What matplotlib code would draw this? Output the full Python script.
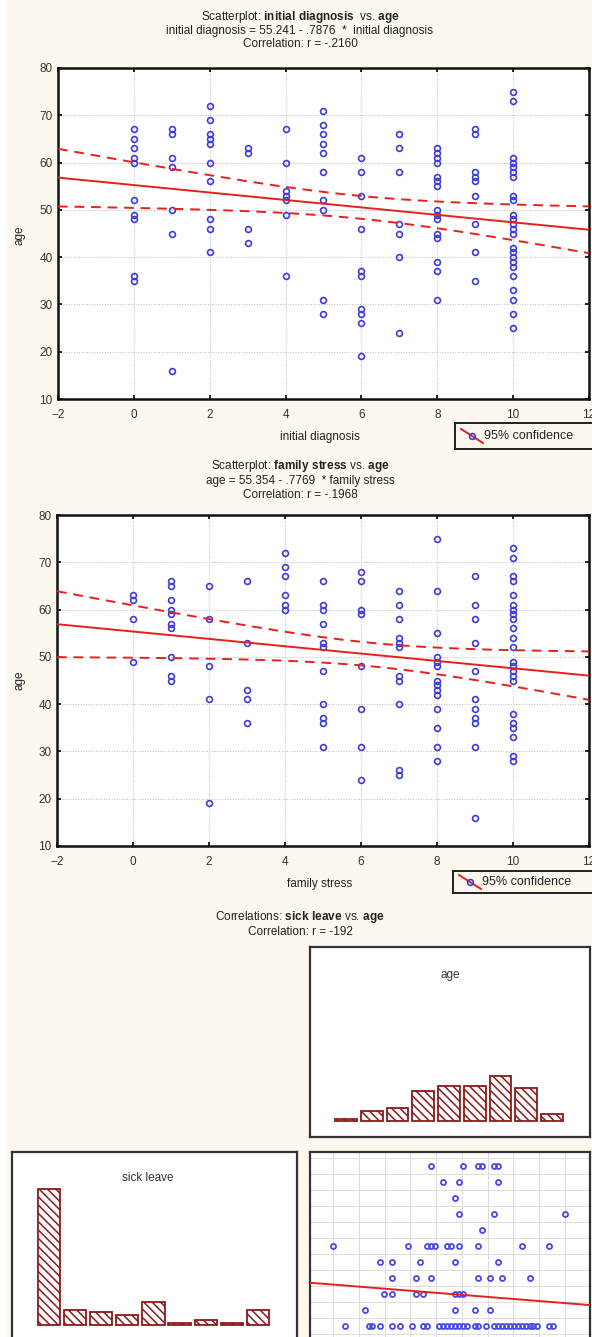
import numpy as np
import matplotlib
matplotlib.use("Agg")
import matplotlib.pyplot as plt
from matplotlib.patches import Rectangle

plt.rcParams['font.family'] = ['Liberation Sans', 'DejaVu Sans']
plt.rcParams['mathtext.fontset'] = 'custom'
plt.rcParams['mathtext.rm'] = 'Liberation Sans'
plt.rcParams['mathtext.bf'] = 'Liberation Sans:bold'
plt.rcParams['hatch.linewidth'] = 1.1

# ---- data ----
# panel 1: initial diagnosis (0..10) vs age
diag_levels = list(range(11))
diag_ages = [
    [67, 65, 63, 61, 60, 52, 49, 48, 36, 35],
    [67, 66, 61, 59, 50, 45, 16],
    [72, 69, 66, 65, 64, 60, 56, 48, 46, 41],
    [63, 62, 46, 43],
    [67, 60, 54, 53, 52, 49, 36],
    [71, 68, 66, 64, 62, 58, 52, 50, 31, 28],
    [61, 58, 53, 46, 37, 36, 29, 28, 26, 19],
    [66, 63, 58, 47, 45, 40, 24],
    [63, 62, 61, 60, 57, 56, 55, 50, 49, 48, 45, 44, 39, 37, 31],
    [67, 66, 58, 57, 56, 53, 47, 41, 35],
    [75, 73, 61, 60, 59, 58, 57, 53, 52, 49, 48, 47, 46, 45, 42, 41, 40, 39,
     38, 36, 33, 31, 28, 25],
]
diag_fit = (55.241, -0.7876)

# panel 2: family stress (0..10) vs age
stress_levels = list(range(11))
stress_ages = [
    [63, 62, 58, 49],
    [66, 65, 62, 60, 59, 57, 56, 50, 46, 45],
    [65, 58, 48, 41, 19],
    [66, 53, 43, 41, 36],
    [72, 69, 67, 63, 61, 60],
    [66, 61, 60, 57, 53, 52, 47, 40, 37, 36, 31],
    [68, 66, 60, 59, 48, 39, 31, 24],
    [64, 61, 58, 54, 53, 52, 46, 45, 40, 26, 25],
    [75, 64, 55, 50, 49, 48, 45, 44, 43, 42, 39, 35, 31, 28],
    [67, 61, 58, 53, 47, 41, 39, 37, 36, 31, 16],
    [73, 71, 67, 66, 63, 61, 60, 59, 58, 56, 54, 52, 49, 48, 47, 46, 45, 38,
     36, 35, 33, 29, 28],
]
stress_fit = (55.354, -0.7769)

# panel 3: sick leave (0..10) vs age, plus the two histograms
sick_levels = list(range(11))
sick_ages = [
    [19, 25, 26, 28, 31, 33, 36, 39, 40, 43, 44, 45, 46, 47, 48, 49, 50, 52,
     53, 55, 57, 58, 59, 60, 61, 62, 63, 64, 65, 66, 67, 68, 71, 72],
    [24, 47, 52, 56],
    [29, 31, 37, 39, 47, 48, 49],
    [31, 37, 41, 53, 56, 59, 66],
    [28, 31, 38, 47, 58],
    [16, 35, 40, 41, 42, 45, 46, 48, 53, 64, 71],
    [54],
    [48, 57, 75],
    [47],
    [44, 48, 58],
    [41, 49, 53, 54, 57, 58],
]
sick_fit = (2.9, -0.0196)   # line (sick leave on age)
age_range = (16, 75)
age_hist = [1, 4, 5, 12, 14, 14, 18, 13, 3]
sick_hist = [54, 6, 5, 4, 9, 1, 2, 1, 6]

# ---- layout helpers (pixel coords of the 592x1337 picture) ----
W, H = 592, 1337
BG = '#fcf8ee'
BLUE = '#3c3cdc'
RED = '#e8201c'
DARKRED = '#8b1a1a'
FS = 8.5


def rect(x0, y0, x1, y1):
    return [x0 / W, 1 - y1 / H, (x1 - x0) / W, (y1 - y0) / H]


def ftext(x, y, s, **kw):
    kw.setdefault('fontsize', FS)
    kw.setdefault('ha', 'center')
    kw.setdefault('va', 'center')
    kw.setdefault('color', '#222222')
    return fig.text(x / W, 1 - y / H, s, **kw)


fig = plt.figure(figsize=(W / 100, H / 100), dpi=100, facecolor=BG)
fig.patches.append(Rectangle((0, 0), 7 / W, 1, transform=fig.transFigure,
                             facecolor='white', edgecolor='none', zorder=-5))


def scatter_panel(box, levels, ages, fit, xlabel, titles, title_y, ylab_y, xlab_y, leg_box):
    ax = fig.add_axes(rect(*box))
    x = np.concatenate([[lv] * len(a) for lv, a in zip(levels, ages)]).astype(float)
    y = np.concatenate(ages).astype(float)
    ax.plot(x, y, 'o', ms=4.2, mfc='none', mec=BLUE, mew=1.2, zorder=3)

    b0, b1 = fit
    xx = np.linspace(-2, 12, 200)
    yy = b0 + b1 * xx
    n = len(x)
    s = np.sqrt(np.sum((y - (b0 + b1 * x)) ** 2) / (n - 2))
    sxx = np.sum((x - x.mean()) ** 2)
    half = 1.984 * s * np.sqrt(1 / n + (xx - x.mean()) ** 2 / sxx)
    ax.plot(xx, yy, color=RED, lw=1.4, zorder=4)
    ax.plot(xx, yy + half, color=RED, lw=1.4, ls=(0, (5, 3.5)), zorder=4)
    ax.plot(xx, yy - half, color=RED, lw=1.4, ls=(0, (5, 3.5)), zorder=4)

    ax.set_xlim(-2, 12)
    ax.set_ylim(10, 80)
    ax.set_xticks(range(-2, 13, 2))
    ax.set_yticks(range(10, 81, 10))
    ax.grid(True, ls=':', color='#b8b8c8', lw=0.7)
    ax.tick_params(direction='in', top=True, right=True, length=3, width=1.2,
                   labelsize=FS, labelcolor='#333333')
    ax.tick_params(axis='x', pad=7)
    ax.tick_params(axis='y', pad=4)
    for sp in ax.spines.values():
        sp.set_linewidth(1.8)
        sp.set_color('#111111')

    for t, ty in zip(titles, title_y):
        ftext(300, ty, t)
    ftext(19, ylab_y, 'age', rotation=90)
    ftext(320, xlab_y, xlabel)

    # legend box
    lx0, ly0, lx1, ly1 = leg_box
    lax = fig.add_axes(rect(lx0, ly0, lx1, ly1))
    lax.set_xlim(0, lx1 - lx0)
    lax.set_ylim(ly1 - ly0, 0)
    lax.set_xticks([])
    lax.set_yticks([])
    lax.set_facecolor(BG)
    for sp in lax.spines.values():
        sp.set_linewidth(1.4)
        sp.set_color('#222222')
    mid = (ly1 - ly0) / 2
    lax.plot([6, 28], [mid - 7, mid + 7], color=RED, lw=1.4)
    lax.plot([17], [mid], 'o', ms=4.2, mfc='none', mec=BLUE, mew=1.2)
    lax.text(29, mid, '95% confidence', fontsize=9, va='center', ha='left', color='#222222')
    return ax


scatter_panel((58, 68, 589, 399), diag_levels, diag_ages, diag_fit, 'initial diagnosis',
              [r'Scatterplot: $\bf{initial\ diagnosis}$  vs. $\bf{age}$',
               'initial diagnosis = 55.241 - .7876  *  initial diagnosis',
               'Correlation: r = -.2160'],
              [17, 31, 44], 235, 437, (455, 423, 600, 449))

scatter_panel((57, 515, 589, 846), stress_levels, stress_ages, stress_fit, 'family stress',
              [r'Scatterplot: $\bf{family\ stress}$ vs. $\bf{age}$',
               'age = 55.354 - .7769  * family stress',
               'Correlation: r = -.1968'],
              [466, 481, 495], 680, 884, (453, 871, 600, 893))

# ---- panel 3: correlation matrix cell ----
ftext(300, 917, r'Correlations: $\bf{sick\ leave}$ vs. $\bf{age}$')
ftext(300, 932, 'Correlation: r = -192')

age_edges = np.linspace(age_range[0], age_range[1], len(age_hist) + 1)
age_centers = (age_edges[:-1] + age_edges[1:]) / 2
age_w = age_edges[1] - age_edges[0]
age_xlim = (10.1, 81.4)


def box_axes(box):
    ax = fig.add_axes(rect(*box))
    ax.set_xticks([])
    ax.set_yticks([])
    for sp in ax.spines.values():
        sp.set_linewidth(1.6)
        sp.set_color('#333333')
    return ax


ax_age = box_axes((310, 947, 590, 1137))
ax_age.bar(age_centers, age_hist, width=age_w * 0.84, facecolor='white',
           edgecolor=DARKRED, lw=1.3, hatch='\\\\\\\\')
ax_age.set_xlim(*age_xlim)
ax_age.set_ylim(-6.3, 69.0)
ftext(450, 975, 'age', color='#333333')

ax_sick = box_axes((12, 1152, 297, 1345))
ax_sick.bar(np.arange(len(sick_hist)), sick_hist, width=0.85, facecolor='white',
            edgecolor=DARKRED, lw=1.3, hatch='\\\\\\\\')
ax_sick.set_xlim(-1.42, 9.5)
ax_sick.set_ylim(-7.9, 68.7)
ftext(148, 1178, 'sick leave', color='#333333')

ax_sc = box_axes((310, 1152, 590, 1345))
sx = np.concatenate(sick_ages).astype(float)
sy = np.concatenate([[lv] * len(a) for lv, a in zip(sick_levels, sick_ages)]).astype(float)
ax_sc.set_xlim(*age_xlim)
ax_sc.set_ylim(-1.19, 10.875)
for e in age_edges:
    ax_sc.axvline(e, color='#dcdcdc', lw=0.7, zorder=0)
for lv in np.arange(-0.5, 11, 1):
    ax_sc.axhline(lv, color='#dcdcdc', lw=0.7, zorder=0)
ax_sc.plot(sx, sy, 'o', ms=3.6, mfc='none', mec='#4848e4', mew=1.3, zorder=3)
gx = np.array(age_xlim)
ax_sc.plot(gx, sick_fit[0] + sick_fit[1] * gx, color=RED, lw=1.4, zorder=4)

fig.savefig('out.png', dpi=100, facecolor=BG)
